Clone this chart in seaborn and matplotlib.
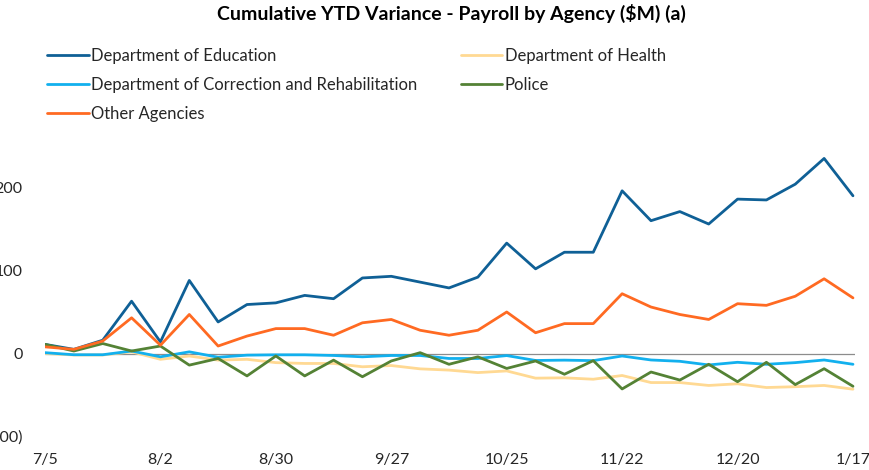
import matplotlib
matplotlib.use("Agg")
import matplotlib.pyplot as plt
import seaborn as sns
import pandas as pd
import numpy as np

weeks = list(range(29))
tick_labels = ["7/5", "8/2", "8/30", "9/27", "10/25", "11/22", "12/20", "1/17"]

education = [11, 5, 16, 63, 14, 88, 38, 59, 61, 70, 66, 91, 93, 86, 79, 92, 133, 102, 122, 122,
             196, 160, 171, 156, 186, 185, 204, 235, 190]
health = [0, -1.8, -1.8, 2, -7, -3, -8, -7, -11, -12, -12, -16, -14.5, -18.5, -20, -23, -21, -29.7,
          -29.3, -31, -26.5, -35, -35, -38.5, -36.5, -41, -40, -38.5, -43]
correction = [1, -1.5, -1.5, 3, -4, 2, -4.5, -2, -1.6, -1.6, -2.4, -4, -2.4, -2.4, -6, -6, -2.5,
              -8.4, -8, -8.6, -3, -7.8, -9.4, -13.8, -10.6, -13, -11, -7.8, -13]
police = [11, 3, 12, 3, 9, -14, -6, -27, -3, -27, -8, -28, -9, 1, -13, -4, -18, -9, -25, -8.6,
          -42.7, -22.3, -32, -13, -34, -10.6, -37.5, -18.3, -39.5]
other = [8, 5, 15, 43, 10, 47, 9, 21, 30, 30, 22, 37, 41, 28, 22, 28, 50, 25, 36, 36, 72, 56, 47,
         41, 60, 58, 69, 90, 67]

series_names = ["Department of Education", "Department of Health",
                "Department of Correction and Rehabilitation", "Police", "Other Agencies"]
series_values = [education, health, correction, police, other]
colors = ["#0F6096", "#FFD993", "#12B0EE", "#548235", "#FF6A22"]

rows = []
for name, vals in zip(series_names, series_values):
    for w, v in zip(weeks, vals):
        rows.append({"week": w, "value": v, "agency": name})
df = pd.DataFrame(rows)

sns.set_style("white")
plt.rcParams["font.family"] = ["Lato", "DejaVu Sans"]

fig = plt.figure(figsize=(8.7, 4.7), dpi=100)
ax = fig.add_axes([45 / 870, 1 - 436.5 / 470, 810 / 870, (436.5 - 146) / 470])

ax.axhline(0, color="#8c8c8c", lw=0.9, zorder=1)
sns.lineplot(data=df, x="week", y="value", hue="agency", hue_order=series_names,
             palette=colors, linewidth=2.0, ax=ax, legend=True, zorder=3)

ax.set_xlim(0, 28.07)
ax.set_ylim(-100, 250)
ax.set_xticks(weeks[::4])
ax.set_xticklabels(tick_labels)
ax.set_yticks([-100, 0, 100, 200])
ax.set_yticklabels(["(100)", "0", "100", "200"])
ax.tick_params(axis="both", length=0, labelsize=11.5, colors="#262626")
ax.tick_params(axis="y", pad=16)
ax.tick_params(axis="x", pad=12)
ax.set_xlabel("")
ax.set_ylabel("")
for s in ax.spines.values():
    s.set_visible(False)

handles, labels = ax.get_legend_handles_labels()
ax.get_legend().remove()
order = [0, 2, 4, 1, 3]
leg = fig.legend([handles[i] for i in order], [labels[i] for i in order],
                 loc="upper left", bbox_to_anchor=(47 / 870, 1 - 48 / 470), ncol=2,
                 frameon=False, fontsize=12, handlelength=2.5, handletextpad=0.15,
                 columnspacing=2.6, labelspacing=0.78, borderaxespad=0, borderpad=0)
for t in leg.get_texts():
    t.set_color("#262626")

fig.text(451 / 870, 1 - 13 / 470, "Cumulative YTD Variance - Payroll by Agency ($M) (a)",
         ha="center", va="center", fontsize=14, fontweight="bold", color="#000000")

fig.savefig("out.png", dpi=100)
